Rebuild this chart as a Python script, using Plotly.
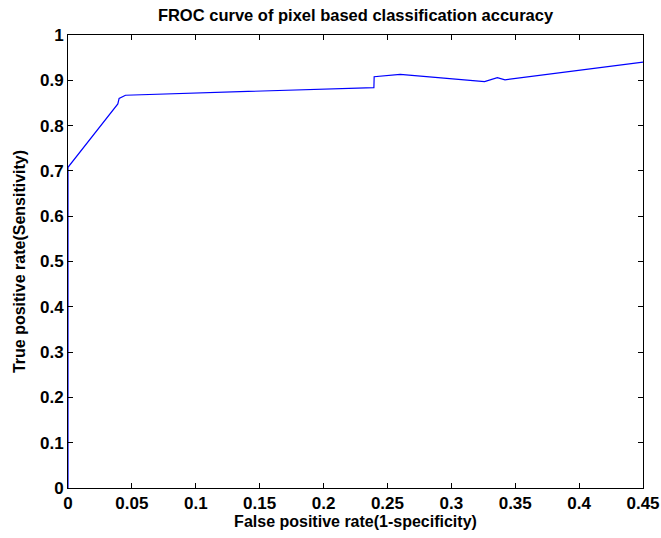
import plotly.graph_objects as go

# FROC operating points: false positive rate vs. true positive rate
fpr = [0.0, 0.0, 0.0, 0.039, 0.040, 0.045, 0.2394, 0.2396, 0.260, 0.326, 0.336, 0.342, 0.45]
tpr = [0.0, 0.30, 0.708, 0.848, 0.860, 0.867, 0.884, 0.908, 0.913, 0.897, 0.906, 0.901, 0.940]

x_ticks = [0, 0.05, 0.1, 0.15, 0.2, 0.25, 0.3, 0.35, 0.4, 0.45]
x_tick_text = ["0", "0.05", "0.1", "0.15", "0.2", "0.25", "0.3", "0.35", "0.4", "0.45"]
y_ticks = [0, 0.1, 0.2, 0.3, 0.4, 0.5, 0.6, 0.7, 0.8, 0.9, 1]
y_tick_text = ["0", "0.1", "0.2", "0.3", "0.4", "0.5", "0.6", "0.7", "0.8", "0.9", "1"]

FONT = "Liberation Sans, Arial, sans-serif"

fig = go.Figure()
fig.add_trace(go.Scatter(
    x=fpr, y=tpr, mode="lines",
    line=dict(color="#0000ff", width=1.2),
    showlegend=False, hoverinfo="skip",
))

axis_common = dict(
    showgrid=False, zeroline=False, automargin=False,
    showline=True, linecolor="black", linewidth=1, mirror="ticks",
    ticks="inside", ticklen=5, tickcolor="black", tickwidth=1,
    tickfont=dict(family=FONT, size=17, color="black", weight="bold"),
)

fig.update_layout(
    width=661, height=538,
    margin=dict(l=68, r=18, t=35, b=50),
    paper_bgcolor="white", plot_bgcolor="white",
    title=dict(
        text="FROC curve of pixel based classification accuracy",
        x=(68 + 643) / 2 / 661, xanchor="center",
        y=1 - 15 / 538, yanchor="middle",
        font=dict(family=FONT, size=16.5, color="black", weight="bold"),
    ),
    xaxis=dict(
        range=[0, 0.45], tickvals=x_ticks, ticktext=x_tick_text,
        title=dict(text="False positive rate(1-specificity)", standoff=0,
                   font=dict(family=FONT, size=16, color="black", weight="bold")),
        **axis_common,
    ),
    yaxis=dict(
        range=[0, 1], tickvals=y_ticks, ticktext=y_tick_text,
        title=dict(text="True positive rate(Sensitivity)", standoff=10,
                   font=dict(family=FONT, size=16, color="black", weight="bold")),
        **axis_common,
    ),
)

fig.write_html("out.html")
